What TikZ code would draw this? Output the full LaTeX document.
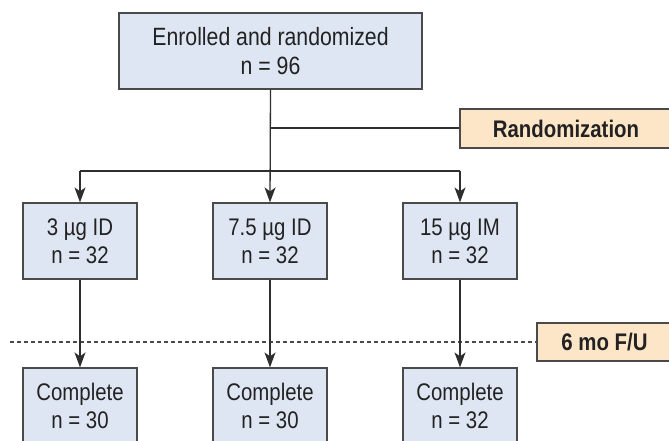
\documentclass[tikz,border=0pt]{standalone}
\usepackage{fontspec}
\setmainfont[FakeStretch=0.85]{Liberation Sans}
\usetikzlibrary{arrows.meta}
\definecolor{boxblue}{HTML}{DFE6F3}
\definecolor{boxorange}{HTML}{FDE6C8}
\definecolor{edgegray}{HTML}{4A4A4A}
\definecolor{linegray}{HTML}{2E2E2E}
\definecolor{txt}{HTML}{222222}
\tikzset{
  bluebox/.style={draw=edgegray, line width=1.2pt, fill=boxblue, text=txt,
    align=center, inner sep=0pt, font=\fontsize{24}{28}\selectfont},
  tagbox/.style={draw=edgegray, line width=1.2pt, fill=boxorange, text=txt,
    inner sep=0pt, font=\fontsize{24}{28}\selectfont\bfseries},
  conn/.style={draw=linegray, line width=1.3pt},
  arr/.style={conn, -{Stealth[length=15pt,width=11pt,inset=4pt]}},
  dashline/.style={draw=edgegray, line width=1.2pt, dash pattern=on 4pt off 3pt}
}
\begin{document}
\begin{tikzpicture}[x=1pt,y=-1pt]
\useasboundingbox (0,0) rectangle (669,440);
% top box
\node[bluebox, minimum width=303pt, minimum height=76pt,
      font=\fontsize{25}{29}\selectfont] (top) at (270.5,51) {Enrolled and randomized\\n = 96};
% randomization tag
\node[tagbox, minimum width=212pt, minimum height=39pt] (rand) at (566,128.5) {Randomization};
% group boxes
\node[bluebox, minimum width=114pt, minimum height=76pt] (g1) at (80,241) {3 µg ID\\n = 32};
\node[bluebox, minimum width=114pt, minimum height=76pt] (g2) at (270,241) {7.5 µg ID\\n = 32};
\node[bluebox, minimum width=114pt, minimum height=76pt] (g3) at (460,241) {15 µg IM\\n = 32};
% follow-up tag
\node[tagbox, minimum width=135pt, minimum height=38pt] (fu) at (604.5,342) {6 mo F/U};
% completion boxes
\node[bluebox, minimum width=114pt, minimum height=76pt] (c1) at (80,406) {Complete\\n = 30};
\node[bluebox, minimum width=114pt, minimum height=76pt] (c2) at (270,406) {Complete\\n = 30};
\node[bluebox, minimum width=114pt, minimum height=76pt] (c3) at (460,406) {Complete\\n = 32};
% junctions
\coordinate (j1) at (270,128);
\coordinate (j2) at (270,171);
\coordinate (bl) at (80,171);
\coordinate (br) at (460,171);
\coordinate (dl) at (10,342);
% connectors
\draw[arr] (top.south) -- (g2.north);
\draw[conn] (j1) -- (rand.west |- j1);
\draw[conn] (bl) -- (br);
\draw[arr] (bl) -- (g1.north);
\draw[arr] (br) -- (g3.north);
\draw[dashline] (dl) -- (fu.west);
\draw[arr] (g1.south) -- (c1.north);
\draw[arr] (g2.south) -- (c2.north);
\draw[arr] (g3.south) -- (c3.north);
\end{tikzpicture}
\end{document}
